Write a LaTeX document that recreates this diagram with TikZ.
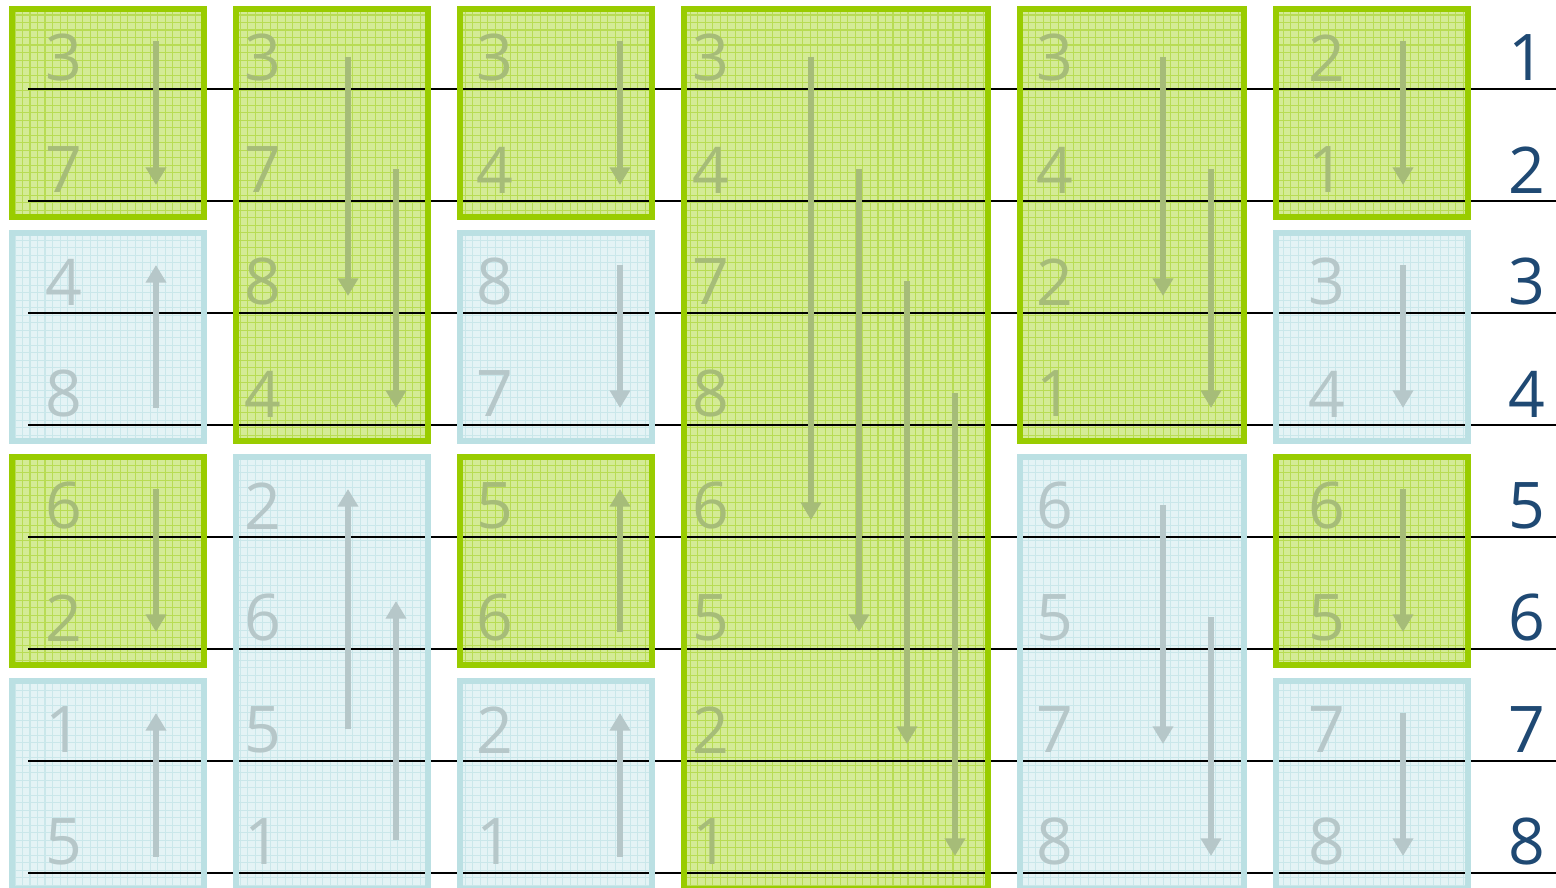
\documentclass[tikz,border=0pt]{standalone}
\usepackage{fontspec}
\setmainfont{Open Sans}
\usetikzlibrary{arrows.meta}
\definecolor{boxgreen}{RGB}{153, 204, 0}
\definecolor{fillgreen}{RGB}{212, 235, 150}
\definecolor{gridgreen}{RGB}{184, 220, 84}
\definecolor{boxblue}{RGB}{187, 224, 227}
\definecolor{fillblue}{RGB}{228, 243, 245}
\definecolor{gridblue}{RGB}{202, 231, 234}
\definecolor{inkg}{RGB}{166, 188, 120}
\definecolor{inkb}{RGB}{182, 199, 201}
\definecolor{rowblue}{RGB}{31, 73, 115}

\begin{document}
\begin{tikzpicture}[
                x=0.01cm, y=-0.01cm,
                wire/.style={black, line width=0.45pt},
                gbox/.style={draw=boxgreen, line width=1.7pt},
                bbox/.style={draw=boxblue, line width=1.7pt},
                digit/.style={inner sep=0pt, font=\fontsize{18.3}{20}\selectfont},
                cmp/.style={line width=1.9pt, -{Triangle[width=5.6pt, length=5pt]}}
            ]
                \useasboundingbox (0, 0) rectangle (1556, 888);

                % Fondos de los bloques
                \foreach \xa/\xb/\ra/\rb in {12/204/1/2, 12/204/5/6, 236/428/1/4, 460/652/1/2, 460/652/5/6, 684/988/1/8, 1020/1244/1/4, 1276/1468/1/2, 1276/1468/5/6} {
                    \begin{scope}
                        \clip (\xa, {9+112*(\ra-1)}) rectangle (\xb, {112*\rb-7});
                        \fill[fillgreen] (\xa, {9+112*(\ra-1)}) rectangle (\xb, {112*\rb-7});
                        \draw[gridgreen, line width=0.3pt, step=0.075cm] (\xa, {9+112*(\ra-1)}) grid (\xb, {112*\rb-7});
                    \end{scope}
                }
                \foreach \xa/\xb/\ra/\rb in {12/204/3/4, 12/204/7/8, 236/428/5/8, 460/652/3/4, 460/652/7/8, 1020/1244/5/8, 1276/1468/3/4, 1276/1468/7/8} {
                    \begin{scope}
                        \clip (\xa, {9+112*(\ra-1)}) rectangle (\xb, {112*\rb-7});
                        \fill[fillblue] (\xa, {9+112*(\ra-1)}) rectangle (\xb, {112*\rb-7});
                        \draw[gridblue, line width=0.3pt, step=0.075cm] (\xa, {9+112*(\ra-1)}) grid (\xb, {112*\rb-7});
                    \end{scope}
                }

                % Lineas horizontales
                \foreach \r in {1,...,8} {
                    \coordinate (w\r a) at (28, {89+112*(\r-1)});
                    \coordinate (w\r b) at (1556, {89+112*(\r-1)});
                    \draw[wire] (w\r a) -- (w\r b);
                }

                % Bordes de los bloques
                \foreach \xa/\xb/\ra/\rb in {12/204/1/2, 12/204/5/6, 236/428/1/4, 460/652/1/2, 460/652/5/6, 684/988/1/8, 1020/1244/1/4, 1276/1468/1/2, 1276/1468/5/6}
                    \draw[gbox] (\xa, {9+112*(\ra-1)}) rectangle (\xb, {112*\rb-7});
                \foreach \xa/\xb/\ra/\rb in {12/204/3/4, 12/204/7/8, 236/428/5/8, 460/652/3/4, 460/652/7/8, 1020/1244/5/8, 1276/1468/3/4, 1276/1468/7/8}
                    \draw[bbox] (\xa, {9+112*(\ra-1)}) rectangle (\xb, {112*\rb-7});

                % Columna 1
                \foreach \v/\k [count=\r] in {3/g, 7/g, 4/b, 8/b, 6/g, 2/g, 1/b, 5/b}
                    \node[digit, text=ink\k] (a\r) at (64, {58+112*(\r-1)}) {\v};
                % Columna 2
                \foreach \v/\k [count=\r] in {3/g, 7/g, 8/g, 4/g, 2/b, 6/b, 5/b, 1/b}
                    \node[digit, text=ink\k] (b\r) at (263, {58+112*(\r-1)}) {\v};
                % Columna 3
                \foreach \v/\k [count=\r] in {3/g, 4/g, 8/b, 7/b, 5/g, 6/g, 2/b, 1/b}
                    \node[digit, text=ink\k] (c\r) at (495, {58+112*(\r-1)}) {\v};
                % Columna 4
                \foreach \v [count=\r] in {3, 4, 7, 8, 6, 5, 2, 1}
                    \node[digit, text=inkg] (d\r) at (711, {58+112*(\r-1)}) {\v};
                % Columna 5
                \foreach \v/\k [count=\r] in {3/g, 4/g, 2/g, 1/g, 6/b, 5/b, 7/b, 8/b}
                    \node[digit, text=ink\k] (e\r) at (1055, {58+112*(\r-1)}) {\v};
                % Columna 6
                \foreach \v/\k [count=\r] in {2/g, 1/g, 3/b, 4/b, 6/g, 5/g, 7/b, 8/b}
                    \node[digit, text=ink\k] (f\r) at (1327, {58+112*(\r-1)}) {\v};

                % Flechas de comparacion
                \foreach \xx/\ya/\yb/\k in {156/41/185/g, 156/408/265/b, 156/489/632/g, 156/857/713/b,
                                            348/57/296/g, 396/169/408/g, 348/729/489/b, 396/840/601/b,
                                            620/41/185/g, 620/265/408/b, 620/632/489/g, 620/857/713/b,
                                            811/57/520/g, 859/169/632/g, 907/281/744/g, 955/393/856/g,
                                            1163/57/296/g, 1211/169/408/g, 1163/505/744/b, 1211/617/856/b,
                                            1403/41/185/g, 1403/265/408/b, 1403/489/632/g, 1403/713/856/b}
                    \draw[cmp, draw=ink\k] (\xx, \ya) -- (\xx, \yb);

                % Numeros de fila
                \foreach \r in {1,...,8}
                    \node[digit, text=rowblue] (lbl\r) at (1527, {58+112*(\r-1)}) {\r};
            \end{tikzpicture}
\end{document}
